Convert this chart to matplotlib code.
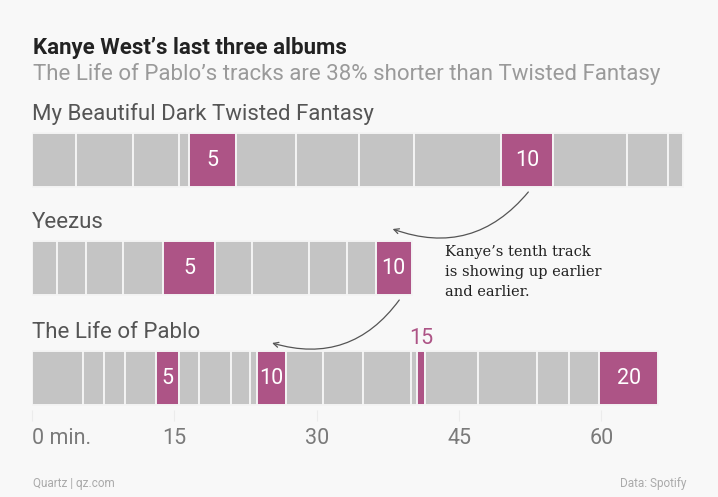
import numpy as np
import matplotlib
matplotlib.use("Agg")
import matplotlib.pyplot as plt

# Track lengths in minutes (Spotify running times)
albums = ["My Beautiful Dark Twisted Fantasy", "Yeezus", "The Life of Pablo"]
mbdtf = [4.67, 5.95, 4.87, 1.03, 4.98, 6.30, 6.63, 5.87, 9.13, 5.45, 7.82, 4.27, 1.63]
yeezus = [2.60, 3.13, 3.85, 4.27, 5.43, 3.90, 6.00, 4.05, 2.97, 3.82]
pablo = [5.33, 2.25, 2.17, 3.27, 2.45, 2.18, 3.32, 2.05, 0.73, 3.02,
         3.93, 4.18, 5.02, 0.63, 0.93, 5.55, 6.22, 3.32, 3.22, 6.20]
highlights = [[5, 10], [5, 10], [5, 10, 15, 20]]   # track numbers in pink
above_labels = [15]                                # label goes above the bar
ticks = [0, 15, 30, 45, 60]
tick_labels = ["0 min.", "15", "30", "45", "60"]

GRAY = "#c4c4c4"
PINK = "#ad5486"
BG = "#f8f8f8"

plt.rcParams["font.family"] = ["Roboto", "DejaVu Sans"]

W, H = 718, 497
fig = plt.figure(figsize=(W / 100, H / 100), dpi=100, facecolor=BG)

# axes: x in minutes (0 at px 32, 9.49 px per minute), y in pixels from top
left_px, right_px, top_px, bot_px = 32, 700, 125, 410
ax = fig.add_axes([left_px / W, 1 - bot_px / H, (right_px - left_px) / W,
                   (bot_px - top_px) / H])
ax.set_facecolor(BG)
ax.set_xlim(0, (right_px - left_px) / 9.49)
ax.set_ylim(bot_px, top_px)

row_y = [160, 268, 378]
bar_h = 54

for i, tracks in enumerate([mbdtf, yeezus, pablo]):
    tracks = np.array(tracks)
    starts = np.concatenate([[0], np.cumsum(tracks)[:-1]])
    colors = [PINK if (n + 1) in highlights[i] else GRAY for n in range(len(tracks))]
    ax.barh(row_y[i], tracks, left=starts, height=bar_h, color=colors,
            edgecolor="#f4f4f4", linewidth=1.4, zorder=2)
    for n in highlights[i]:
        cx = starts[n - 1] + tracks[n - 1] / 2
        if n in above_labels and i == 2:
            ax.text(cx, row_y[i] - bar_h / 2 - 13, str(n), ha="center", va="center",
                    color=PINK, fontsize=15.5)
        else:
            ax.text(cx, row_y[i], str(n), ha="center", va="center",
                    color="white", fontsize=15.5, zorder=3)
    ax.text(0, row_y[i] - bar_h / 2 - 19, albums[i], ha="left", va="center",
            color="#555555", fontsize=16)

for s in ax.spines.values():
    s.set_visible(False)
ax.set_yticks([])
ax.set_xticks(ticks)
ax.set_xticklabels(tick_labels, fontsize=15.5, color="#7a7a7a")
ax.tick_params(axis="x", length=8, width=0.8, color="#ececec", pad=5)
ax.get_xticklabels()[0].set_ha("left")

# arrows linking the tenth tracks
arrow = dict(arrowstyle="->", color="#555555", lw=0.9, mutation_scale=9,
             shrinkA=0, shrinkB=0)
ax.annotate("", xy=(38.0, 229), xytext=(52.3, 192),
            arrowprops=dict(connectionstyle="arc3,rad=-0.35", **arrow))
ax.annotate("", xy=(25.3, 343), xytext=(38.7, 300),
            arrowprops=dict(connectionstyle="arc3,rad=-0.35", **arrow))

ax.text(43.5, 245, "Kanye\u2019s tenth track\nis showing up earlier\nand earlier.",
        ha="left", va="top", fontsize=10.5, color="#222222",
        family=["DejaVu Serif"], linespacing=1.55)

fig.text(33 / W, 1 - 48 / H, "Kanye West\u2019s last three albums", ha="left",
         va="center", fontsize=16, fontweight="bold", color="#222222")
fig.text(33 / W, 1 - 74 / H,
         "The Life of Pablo\u2019s tracks are 38% shorter than Twisted Fantasy",
         ha="left", va="center", fontsize=16, color="#9a9a9a")
fig.text(33 / W, 1 - 483 / H, "Quartz | qz.com", ha="left", va="center",
         fontsize=8.5, color="#aaaaaa")
fig.text(686 / W, 1 - 483 / H, "Data: Spotify", ha="right", va="center",
         fontsize=8.5, color="#aaaaaa")

fig.savefig("out.png", dpi=100, facecolor=BG)
